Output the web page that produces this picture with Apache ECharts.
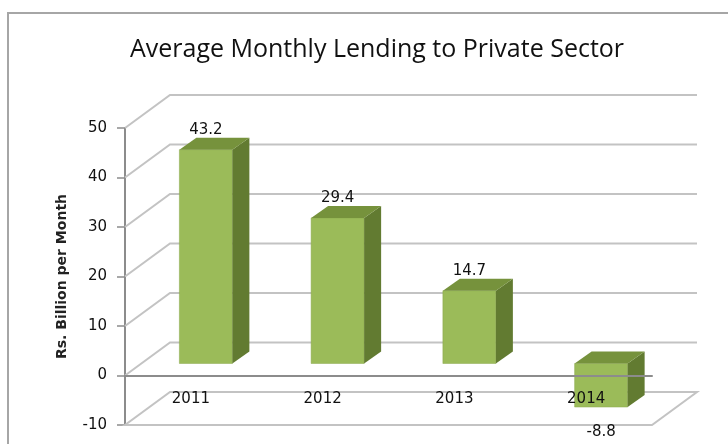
<!DOCTYPE html>
<html>
<head>
<meta charset="utf-8">
<title>Average Monthly Lending to Private Sector</title>
<style>
  html, body { margin: 0; padding: 0; background: #fff; }
  #main { width: 728px; height: 444px; }
</style>
</head>
<body>
<div id="main"></div>
<script src="https://cdn.jsdelivr.net/npm/echarts@6/dist/echarts.min.js"></script>
<script>
// data
var years = ['2011', '2012', '2013', '2014'];
var lending = [43.2, 29.4, 14.7, -8.8];
var yTicks = [-10, 0, 10, 20, 30, 40, 50];

// 3d look: wall depth, bar offset inside it and bar depth
var wallDx = 45, wallDy = -33;
var barOffX = 15, barOffY = -12;
var barDx = 17, barDy = -12;
var barW = 53;
var labelFont = '15px "DejaVu Sans"';

var myChart = echarts.init(document.getElementById('main'));

// back wall, side wall and floor lines
function renderWalls(params, api) {
  var v = api.value(0);
  var cs = params.coordSys;
  var y = api.coord([0, v])[1];
  var x0 = cs.x, x1 = cs.x + cs.width;
  var lineStyle = { stroke: '#c3c3c3', lineWidth: 2, fill: null };
  if (v === yTicks[0]) {
    // floor
    return {
      type: 'polygon',
      shape: { points: [[x0, y], [x1, y], [x1 + wallDx, y + wallDy], [x0 + wallDx, y + wallDy]] },
      style: lineStyle
    };
  }
  return {
    type: 'polyline',
    shape: { points: [[x0, y], [x0 + wallDx, y + wallDy], [x1 + wallDx, y + wallDy]] },
    style: lineStyle
  };
}

function renderBar(params, api) {
  var i = api.value(0), v = api.value(1);
  var p0 = api.coord([i, 0]);
  var p1 = api.coord([i, v]);
  var cx = p0[0] + barOffX;
  var xl = cx - barW / 2, xr = cx + barW / 2;
  var yTop = Math.min(p0[1], p1[1]) + barOffY;
  var yBot = Math.max(p0[1], p1[1]) + barOffY;
  var labelY = v >= 0 ? yTop - 20 : yBot + 25;
  return {
    type: 'group',
    children: [
      { type: 'polygon', shape: { points: [[xl, yTop], [xr, yTop], [xr, yBot], [xl, yBot]] },
        style: { fill: '#9bbb59', stroke: '#8aa94c', lineWidth: 0.5 } },
      { type: 'polygon', shape: { points: [[xr, yTop], [xr + barDx, yTop + barDy], [xr + barDx, yBot + barDy], [xr, yBot]] },
        style: { fill: '#627b31' } },
      { type: 'polygon', shape: { points: [[xl, yTop], [xl + barDx, yTop + barDy], [xr + barDx, yTop + barDy], [xr, yTop]] },
        style: { fill: '#76923c' } },
      { type: 'text', style: { x: cx, y: labelY, text: String(v), align: 'center', verticalAlign: 'middle',
        fill: '#111', font: labelFont } }
    ]
  };
}

// category names drawn on the floor, above the bars
function renderCategory(params, api) {
  var p = api.coord([api.value(0), 0]);
  return {
    type: 'text',
    style: { x: p[0], y: p[1] + 24, text: years[api.value(0)], align: 'center', verticalAlign: 'middle',
      fill: '#111', font: labelFont }
  };
}

myChart.setOption({
  animation: false,
  backgroundColor: '#fff',
  title: {
    text: 'Average Monthly Lending to Private Sector',
    left: 372, top: 32, textAlign: 'center',
    textStyle: { fontFamily: 'Open Sans', fontSize: 25, fontWeight: 'normal', color: '#111' }
  },
  graphic: [{
    type: 'rect', silent: true, z: -1,
    shape: { x: 8, y: 13, width: 760, height: 460 },
    style: { fill: null, stroke: '#a6a6a6', lineWidth: 2 }
  }],
  grid: { left: 125, right: 76, top: 128, bottom: 19, outerBoundsMode: 'none' },
  xAxis: {
    type: 'category', data: years, z: 10,
    axisLine: { onZero: true, lineStyle: { color: '#8c8c8c', width: 2 } },
    axisTick: { length: 7, lineStyle: { color: '#8c8c8c', width: 1.5 } },
    axisLabel: { show: false }
  },
  yAxis: {
    type: 'value', min: -10, max: 50, interval: 10,
    name: 'Rs. Billion per Month', nameLocation: 'middle', nameGap: 56,
    nameTextStyle: { fontFamily: 'DejaVu Sans', fontWeight: 'bold', fontSize: 14, color: '#222' },
    axisLine: { show: true, onZero: false, lineStyle: { color: '#8c8c8c', width: 2 } },
    axisTick: { show: true, length: 8, lineStyle: { color: '#8c8c8c', width: 1.5 } },
    axisLabel: { margin: 18, color: '#111', fontSize: 15, fontFamily: 'DejaVu Sans' },
    splitLine: { show: false }
  },
  series: [
    {
      type: 'custom', z: 1, silent: true,
      renderItem: renderWalls,
      data: yTicks.map(function (t) { return [t]; }),
      encode: { y: 0 }
    },
    {
      type: 'custom', z: 3, silent: true,
      renderItem: renderBar,
      data: lending.map(function (v, i) { return [i, v]; }),
      encode: { x: 0, y: 1 }
    },
    {
      type: 'custom', z: 12, silent: true,
      renderItem: renderCategory,
      data: years.map(function (y, i) { return [i]; }),
      encode: { x: 0 }
    }
  ]
});
</script>
</body>
</html>
